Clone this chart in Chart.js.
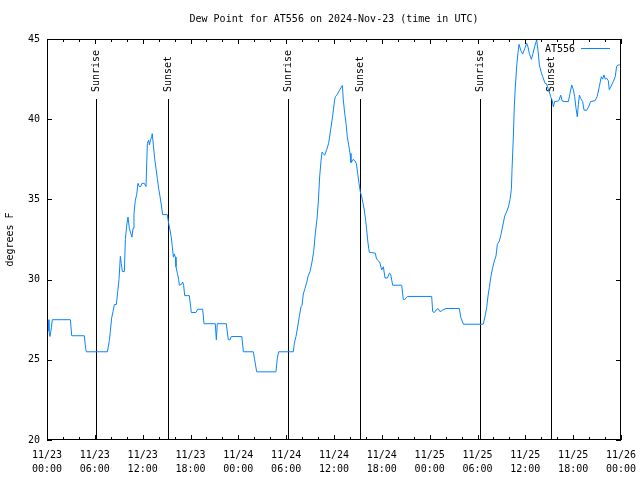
<!DOCTYPE html>
<html>
<head>
<meta charset="utf-8">
<script src="https://cdn.jsdelivr.net/npm/chart.js@4.4.1/dist/chart.umd.min.js"></script>
<style>
  html, body { margin: 0; padding: 0; background: #fff; }
</style>
</head>
<body>
<canvas id="dew" width="640" height="480"></canvas>
<script>
const TITLE = 'Dew Point for AT556 on 2024-Nov-23 (time in UTC)';
const STATION = 'AT556';
const FONT = 'DejaVu Sans Mono';

// hours since 2024-11-23 00:00 UTC
const hours = [
    0.13, 0.25, 0.38, 0.55, 0.67, 2.93, 3.1, 4.68, 4.85, 4.93, 7.57, 7.69, 7.82, 7.94, 8.11, 8.28, 8.45, 8.7, 8.87, 9.03,
    9.2, 9.32, 9.45, 9.7, 9.83, 9.99, 10.16, 10.33, 10.5, 10.66, 10.79, 10.91, 11.08, 11.25, 11.41, 11.58, 11.75, 11.92, 12.2, 12.42,
    12.59, 12.75, 12.84, 12.98, 13.13, 13.2, 13.34, 13.5, 13.67, 13.84, 14.0, 14.17, 14.34, 14.51, 15.09, 15.26, 15.43, 15.6, 15.72, 15.85,
    15.97, 16.1, 16.18, 16.35, 16.52, 16.6, 16.85, 17.02, 17.14, 17.27, 17.85, 18.02, 18.1, 18.69, 18.9, 19.53, 19.69, 21.11, 21.24, 21.36,
    22.49, 22.74, 22.95, 23.12, 24.44, 24.63, 25.88, 26.05, 26.3, 28.72, 28.89, 29.06, 30.9, 31.03, 31.23, 31.44, 31.65, 31.86, 31.99, 32.15,
    32.36, 32.57, 32.74, 32.99, 33.24, 33.45, 33.66, 33.87, 34.04, 34.2, 34.37, 34.5, 34.66, 34.83, 35.08, 35.33, 35.58, 35.83, 36.08, 36.17,
    36.42, 36.59, 36.75, 36.92, 37.05, 37.17, 37.34, 37.51, 37.67, 37.84, 38.01, 38.13, 38.26, 38.42, 38.64, 38.8, 38.97, 39.14, 39.3, 39.47,
    39.64, 39.8, 39.97, 40.1, 40.22, 40.35, 40.43, 41.19, 41.3, 41.48, 41.73, 41.98, 42.19, 42.4, 42.7, 42.94, 43.1, 43.36, 44.49, 44.7,
    44.85, 45.2, 48.25, 48.38, 48.59, 48.8, 49.05, 49.3, 49.63, 50.05, 51.72, 51.9, 52.23, 54.73, 54.98, 55.15, 55.32, 55.48, 55.69, 55.9,
    56.11, 56.32, 56.49, 56.74, 56.95, 57.16, 57.41, 57.7, 57.91, 58.08, 58.25, 58.33, 58.5, 58.62, 58.75, 58.92, 59.08, 59.21, 59.42, 59.67,
    59.92, 60.17, 60.34, 60.5, 60.76, 60.96, 61.17, 61.42, 61.59, 61.76, 61.97, 62.18, 62.47, 62.68, 62.85, 63.01, 63.18, 63.35, 63.51, 63.68,
    63.85, 64.19, 64.44, 64.6, 64.85, 65.4, 65.6, 65.82, 66.02, 66.19, 66.36, 66.52, 66.65, 66.78, 66.94, 67.19, 67.36, 67.69, 67.94, 68.19,
    68.74, 69.03, 69.28, 69.53, 69.7, 69.86, 70.03, 70.2, 70.41, 70.53, 70.7, 71.03, 71.28, 71.45, 71.61, 71.86
];

// dew point, degrees F
const dewF = [
    27.5, 26.8, 26.45, 27.0, 27.5, 27.5, 26.5, 26.5, 25.7, 25.5, 25.5, 25.8, 26.2, 26.75, 27.6, 28.0, 28.45, 28.45, 29.25, 30.0,
    31.45, 31.0, 30.5, 30.5, 32.5, 33.35, 33.9, 33.2, 32.9, 32.65, 33.2, 34.1, 34.95, 35.3, 36.0, 35.8, 35.8, 36.0, 36.0, 35.8,
    38.5, 38.7, 38.4, 38.7, 38.9, 39.1, 38.4, 37.55, 36.95, 36.3, 35.7, 35.2, 34.65, 34.05, 34.05, 33.5, 33.1, 32.6, 32.05, 31.4,
    31.6, 31.4, 30.8, 30.4, 30.0, 29.65, 29.7, 29.85, 29.65, 29.0, 29.0, 28.3, 27.95, 27.95, 28.15, 28.15, 27.25, 27.25, 26.25, 27.25,
    27.25, 26.25, 26.25, 26.45, 26.45, 25.5, 25.5, 25.0, 24.25, 24.25, 25.1, 25.5, 25.5, 26.05, 26.45, 27.05, 27.7, 28.3, 28.4, 29.1,
    29.45, 29.8, 30.2, 30.5, 31.1, 31.75, 32.9, 33.8, 34.9, 36.4, 37.4, 37.95, 37.85, 37.75, 38.1, 38.5, 39.35, 40.2, 41.2, 41.4,
    41.55, 41.72, 41.85, 42.0, 42.1, 41.2, 40.37, 39.74, 38.9, 38.4, 37.87, 37.3, 37.35, 37.5, 37.4, 37.24, 36.62, 36.0, 35.48, 35.17,
    34.76, 34.34, 33.7, 33.1, 32.47, 31.95, 31.7, 31.65, 31.35, 31.2, 31.1, 30.6, 30.8, 30.1, 30.1, 30.4, 30.35, 29.65, 29.65, 28.75,
    28.75, 28.95, 28.95, 28.0, 27.95, 28.1, 28.2, 28.0, 28.1, 28.2, 28.2, 27.65, 27.22, 27.22, 27.8, 28.25, 28.98, 29.5, 30.22, 30.74,
    31.16, 31.47, 32.2, 32.4, 32.82, 33.34, 33.96, 34.28, 34.59, 35.0, 35.63, 36.87, 38.95, 40.82, 42.07, 43.32, 44.15, 44.67, 44.3, 44.06,
    44.4, 44.73, 44.5, 44.1, 43.73, 44.1, 44.52, 44.94, 44.3, 43.38, 42.96, 42.65, 42.24, 42.2, 41.9, 41.7, 41.4, 41.2, 40.78, 41.1,
    41.1, 41.15, 41.5, 41.15, 41.1, 41.1, 41.6, 42.13, 41.85, 41.4, 40.67, 40.15, 40.9, 41.5, 41.3, 41.1, 40.57, 40.55, 40.78, 41.1,
    41.15, 41.44, 42.03, 42.65, 42.5, 42.76, 42.5, 42.55, 42.4, 41.84, 42.0, 42.35, 42.65, 43.3, 43.38, 43.38
];

const eventNames = ['Sunrise', 'Sunset', 'Sunrise', 'Sunset', 'Sunrise', 'Sunset'];
const eventHours = [6.18, 15.18, 30.27, 39.26, 54.36, 63.26];

const LINE_COLOR = '#0a84ff';

Chart.defaults.font.family = FONT;
Chart.defaults.font.size = 10;
Chart.defaults.color = '#000';

function tickLabel(v) {
    if (v % 6 !== 0) return '';
    const day = 23 + Math.floor(v / 24);
    const hh = String(v % 24).padStart(2, '0');
    return ['11/' + day, hh + ':00'];
}

// gnuplot-like frame: box, inward ticks, sunrise/sunset markers, title, key
const gnuFrame = {
    id: 'gnuFrame',
    beforeDatasetsDraw(chart) {
        const {ctx, chartArea: a, scales: {x}} = chart;
        ctx.save();
        ctx.strokeStyle = '#000';
        ctx.lineWidth = 1;
        ctx.fillStyle = '#000';
        ctx.font = `10px "${FONT}"`;
        eventHours.forEach((h, i) => {
            const px = Math.round(x.getPixelForValue(h)) + 0.5;
            ctx.beginPath();
            ctx.moveTo(px, a.top + 60);
            ctx.lineTo(px, a.bottom);
            ctx.stroke();
            ctx.save();
            ctx.translate(px, a.top + 53);
            ctx.rotate(-Math.PI / 2);
            ctx.textAlign = 'left';
            ctx.textBaseline = 'middle';
            ctx.fillText(eventNames[i], 0, 0);
            ctx.restore();
        });
        ctx.restore();
    },
    afterDatasetsDraw(chart) {
        const {ctx, chartArea: a, scales: {x, y}} = chart;
        ctx.save();
        ctx.strokeStyle = '#000';
        ctx.lineWidth = 1;
        ctx.strokeRect(a.left + 0.5, a.top + 0.5, a.right - a.left - 1, a.bottom - a.top - 1);
        ctx.beginPath();
        x.ticks.forEach(t => {
            const px = Math.round(x.getPixelForValue(t.value)) + 0.5;
            const len = t.value % 6 === 0 ? 5 : 3;
            ctx.moveTo(px, a.bottom);
            ctx.lineTo(px, a.bottom - len);
            ctx.moveTo(px, a.top);
            ctx.lineTo(px, a.top + len);
        });
        y.ticks.forEach(t => {
            const py = Math.round(y.getPixelForValue(t.value)) + 0.5;
            ctx.moveTo(a.left, py);
            ctx.lineTo(a.left + 5, py);
            ctx.moveTo(a.right, py);
            ctx.lineTo(a.right - 5, py);
        });
        ctx.stroke();

        // key
        ctx.font = `10px "${FONT}"`;
        ctx.fillStyle = '#000';
        ctx.textAlign = 'right';
        ctx.textBaseline = 'middle';
        chart.data.datasets.forEach((ds, i) => {
            const ky = a.top + 10 + i * 12;
            ctx.fillText(ds.label, a.right - 46, ky);
            ctx.strokeStyle = ds.borderColor;
            ctx.beginPath();
            ctx.moveTo(a.right - 40, ky - 0.5);
            ctx.lineTo(a.right - 11, ky - 0.5);
            ctx.stroke();
        });

        // title centred over the plot
        ctx.textAlign = 'center';
        ctx.fillText(TITLE, (a.left + a.right) / 2, 19);
        ctx.restore();
    }
};

new Chart(document.getElementById('dew'), {
    type: 'line',
    data: {
        datasets: [{
            label: STATION,
            data: hours.map((h, i) => ({x: h, y: dewF[i]})),
            borderColor: LINE_COLOR,
            borderWidth: 1,
            pointRadius: 0,
            tension: 0,
            fill: false
        }]
    },
    options: {
        responsive: false,
        animation: false,
        layout: {padding: {top: 39, right: 19, left: 0, bottom: 0}},
        scales: {
            x: {
                type: 'linear',
                min: 0,
                max: 72,
                grid: {display: false, drawTicks: false},
                border: {display: false},
                ticks: {
                    stepSize: 2,
                    autoSkip: false,
                    maxRotation: 0,
                    padding: 8,
                    font: {size: 10, lineHeight: 1.4},
                    callback: tickLabel
                },
                afterFit: s => {
                    s.height = 40;
                    s.paddingLeft = 0;
                    s.paddingRight = 0;
                }
            },
            y: {
                min: 20,
                max: 45,
                grid: {display: false, drawTicks: false},
                border: {display: false},
                ticks: {stepSize: 5, padding: 7},
                title: {display: true, text: 'degrees F', padding: {top: 4, bottom: 0}},
                afterFit: s => { s.width = 47; }
            }
        },
        plugins: {
            legend: {display: false},
            tooltip: {enabled: false}
        }
    },
    plugins: [gnuFrame]
});
</script>
</body>
</html>
